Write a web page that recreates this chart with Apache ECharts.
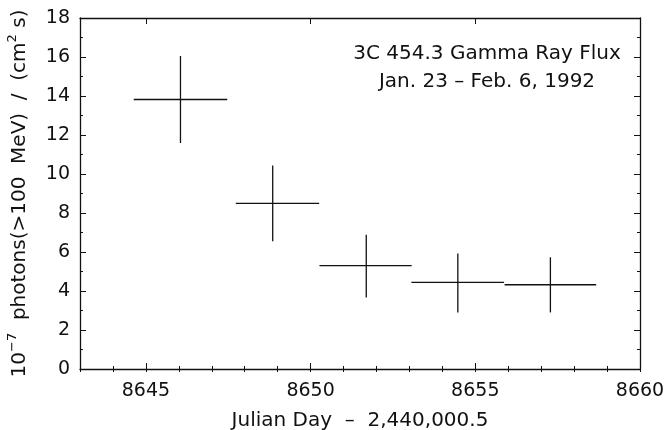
<!DOCTYPE html>
<html>
<head>
<meta charset="utf-8">
<script src="https://cdn.jsdelivr.net/npm/echarts@6/dist/echarts.min.js"></script>
<style>
    html, body { margin: 0; padding: 0; background: #fff; }
    #chart { width: 667px; height: 430px; }
</style>
</head>
<body>
<div id="chart"></div>
<script>
// Data: bin centre, flux, bin edges, error bar ends
const dayCenter = [8646.05, 8648.85, 8651.69, 8654.47, 8657.28]
const flux = [13.82, 8.49, 5.30, 4.44, 4.32]
const binStart = [8644.63, 8647.73, 8650.27, 8653.06, 8655.89]
const binEnd = [8647.47, 8650.26, 8653.07, 8655.87, 8658.67]
const fluxLow = [11.59, 6.55, 3.67, 2.90, 2.90]
const fluxHigh = [16.05, 10.44, 6.89, 5.92, 5.73]
const xMajorTicks = [8645, 8650, 8655, 8660]

const ink = '#111'
const font = 'DejaVu Sans'
const fontSize = 19

const crosses = dayCenter.map((d, i) => [d, flux[i], binStart[i], binEnd[i], fluxLow[i], fluxHigh[i]])

const chart = echarts.init(document.getElementById('chart'))

// Shared pieces for the four x axes (bottom/top, major/minor ticks)
function xAxisBase(position, extra) {
    return Object.assign({
        type: 'value',
        position: position,
        min: 8643,
        max: 8660,
        interval: 1,
        axisLine: { show: false },
        axisLabel: { show: false },
        splitLine: { show: false },
        axisTick: { show: true, inside: true, length: 3, lineStyle: { color: ink, width: 1 } }
    }, extra)
}

const option = {
    animation: false,
    backgroundColor: '#fff',
    grid: { left: 80, right: 27, top: 18, bottom: 61, outerBoundsMode: 'none' },
    title: {
        text: '3C 454.3 Gamma Ray Flux\nJan. 23 \u2013 Feb. 6, 1992',
        left: 482,
        top: 35,
        textAlign: 'center',
        textStyle: {
            fontFamily: font,
            fontSize: 20,
            fontWeight: 'normal',
            color: ink,
            lineHeight: 28,
            align: 'center'
        }
    },
    xAxis: [
        xAxisBase('bottom', {
            name: 'Julian Day  \u2013  2,440,000.5',
            nameLocation: 'middle',
            nameGap: 42,
            nameTextStyle: { fontFamily: font, fontSize: 20, color: ink },
            axisLine: { show: true, onZero: false, lineStyle: { color: ink, width: 1.3 } },
            axisTick: { show: true, inside: true, length: 6, customValues: xMajorTicks, lineStyle: { color: ink, width: 1 } },
            axisLabel: {
                show: true,
                customValues: xMajorTicks,
                margin: 13,
                fontFamily: font,
                fontSize: fontSize,
                color: ink,
                formatter: v => String(v)
            }
        }),
        xAxisBase('bottom', {}),
        xAxisBase('top', {
            axisLine: { show: true, onZero: false, lineStyle: { color: ink, width: 1.3 } },
            axisTick: { show: true, inside: true, length: 6, customValues: xMajorTicks, lineStyle: { color: ink, width: 1 } }
        }),
        xAxisBase('top', {})
    ],
    yAxis: [
        {
            type: 'value',
            position: 'left',
            min: 0,
            max: 18,
            interval: 2,
            name: '{n|10}{s|\u22127}{n|  photons(>100  MeV)  /  (cm}{s|2}{n| s)}',
            nameLocation: 'middle',
            nameGap: 50,
            nameTextStyle: {
                fontFamily: font,
                fontSize: 20,
                color: ink,
                rich: {
                    n: { fontFamily: font, fontSize: 20, lineHeight: 24, color: ink, verticalAlign: 'bottom' },
                    s: { fontFamily: font, fontSize: 13, lineHeight: 14, color: ink, verticalAlign: 'top' }
                }
            },
            axisLine: { show: true, onZero: false, lineStyle: { color: ink, width: 1.3 } },
            axisTick: { inside: true, length: 6, lineStyle: { color: ink, width: 1 } },
            minorTick: { show: true, splitNumber: 2, length: 3, lineStyle: { color: ink, width: 1 } },
            axisLabel: { margin: 10, fontFamily: font, fontSize: fontSize, color: ink },
            splitLine: { show: false }
        },
        {
            type: 'value',
            position: 'right',
            min: 0,
            max: 18,
            interval: 2,
            axisLine: { show: true, onZero: false, lineStyle: { color: ink, width: 1.3 } },
            axisTick: { inside: true, length: 6, lineStyle: { color: ink, width: 1 } },
            minorTick: { show: true, splitNumber: 2, length: 3, lineStyle: { color: ink, width: 1 } },
            axisLabel: { show: false },
            splitLine: { show: false }
        }
    ],
    series: [
        {
            type: 'custom',
            xAxisIndex: 0,
            yAxisIndex: 0,
            data: crosses,
            renderItem: function (params, api) {
                const y = api.value(1)
                const left = api.coord([api.value(2), y])
                const right = api.coord([api.value(3), y])
                const top = api.coord([api.value(0), api.value(5)])
                const bottom = api.coord([api.value(0), api.value(4)])
                const style = { stroke: ink, lineWidth: 1.3 }
                return {
                    type: 'group',
                    children: [
                        { type: 'line', shape: { x1: left[0], y1: left[1], x2: right[0], y2: right[1] }, style: style },
                        { type: 'line', shape: { x1: top[0], y1: top[1], x2: bottom[0], y2: bottom[1] }, style: style }
                    ]
                }
            }
        }
    ]
}

chart.setOption(option)
</script>
</body>
</html>
